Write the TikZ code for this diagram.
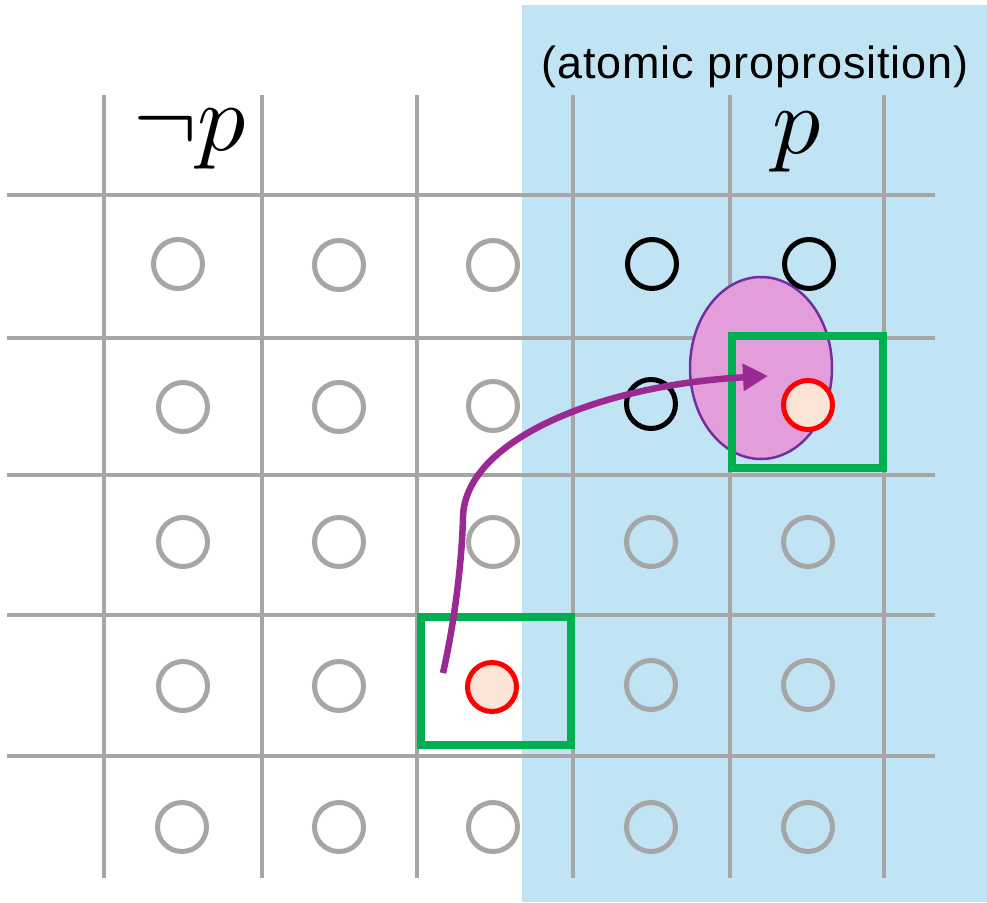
\documentclass[tikz,border=0pt]{standalone}
\usepackage{fontspec}
\usepackage{graphicx}
\newfontfamily\labelfont[LetterSpace=2]{Liberation Sans}
\usetikzlibrary{arrows.meta,shapes.geometric}
\definecolor{bgblue}{HTML}{C1E4F5}
\definecolor{gridgray}{HTML}{A6A6A6}
\definecolor{pinkfill}{HTML}{E39DDB}
\definecolor{ellline}{HTML}{7030A0}
\definecolor{boxgreen}{HTML}{00B050}
\definecolor{peach}{HTML}{FBE3D6}
\definecolor{arrowpurple}{HTML}{9A2A91}
\tikzset{
  gridline/.style={draw=gridgray,line width=4.5pt},
  graycirc/.style={circle,draw=gridgray,line width=5pt,minimum size=49pt,inner sep=0pt},
  blackcirc/.style={circle,draw=black,line width=5pt,minimum size=49pt,inner sep=0pt},
  redcirc/.style={circle,draw=red,fill=peach,line width=5pt,minimum size=49pt,inner sep=0pt},
  greenbox/.style={draw=boxgreen,line width=8pt},
  flow/.style={draw=arrowpurple,line width=6.5pt,-{Triangle[length=25pt,width=26pt]}},
}
\begin{document}
\begin{tikzpicture}[x=1pt,y=-1pt]
\useasboundingbox (0,0) rectangle (987,902);
% blue region
\fill[bgblue] (522,5) rectangle (987,902);
% grid
\foreach \x in {104,262,417,573,730,884} \draw[gridline] (\x,95) -- (\x,878);
\foreach \y in {195,338,475,615,756} \draw[gridline] (7,\y) -- (935,\y);
% ellipse
\node[ellipse, draw=ellline, fill=pinkfill, line width=2.5pt, minimum width=142pt, minimum height=182pt, inner sep=0pt] (ell) at (761,368) {};
% green boxes
\draw[greenbox] (732,336) rectangle (883,468);
\draw[greenbox] (421,617) rectangle (571,745);
% circles row 1
\node[graycirc] (c11) at (178,264) {};
\node[graycirc] (c12) at (339,265) {};
\node[graycirc] (c13) at (493,265) {};
\node[blackcirc] (c14) at (652,264) {};
\node[blackcirc] (c15) at (809,264) {};
% row 2
\node[graycirc] (c21) at (183,407) {};
\node[graycirc] (c22) at (339,407) {};
\node[graycirc] (c23) at (493,406) {};
\node[blackcirc] (c24) at (651,404) {};
\node[redcirc] (c25) at (808,405) {};
% row 3
\node[graycirc] (c31) at (183,542) {};
\node[graycirc] (c32) at (339,542) {};
\node[graycirc] (c33) at (493,542) {};
\node[graycirc] (c34) at (651,542) {};
\node[graycirc] (c35) at (808,542) {};
% row 4
\node[graycirc] (c41) at (183,686) {};
\node[graycirc] (c42) at (339,686) {};
\node[redcirc] (c43) at (492,687) {};
\node[graycirc] (c44) at (651,685) {};
\node[graycirc] (c45) at (808,685) {};
% row 5
\node[graycirc] (c51) at (182,827) {};
\node[graycirc] (c52) at (339,827) {};
\node[graycirc] (c53) at (493,827) {};
\node[graycirc] (c54) at (651,827) {};
\node[graycirc] (c55) at (808,827) {};
% arrow
\coordinate (start) at (443,673);
\coordinate (bend) at (463,517);
\coordinate (tip) at (768,376);
\draw[flow] (start) .. controls (455,620) and (462,560) .. (bend) .. controls (465,440) and (600,385) .. (tip);
% labels
\node[anchor=base, inner sep=0pt] (notp) at (190,150) {\scalebox{9.6}{$\neg p$}};
\node[anchor=base, inner sep=0pt] (p) at (797,153) {\scalebox{9.6}{$p$}};
\node[anchor=base, inner sep=0pt] (atom) at (755,78) {\labelfont\fontsize{45}{50}\selectfont(atomic proprosition)};
\end{tikzpicture}
\end{document}
